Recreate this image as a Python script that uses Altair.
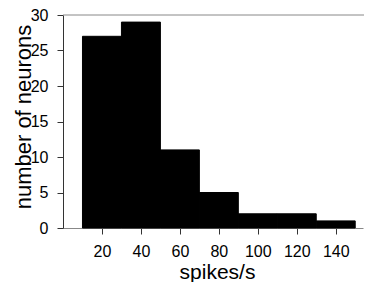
import altair as alt
import pandas as pd

bin_start = [10, 30, 50, 70, 90, 110, 130]
bin_end = [30, 50, 70, 90, 110, 130, 150]
counts = [27, 29, 11, 5, 2, 2, 1]
x_ticks = [20, 40, 60, 80, 100, 120, 140]
y_ticks = [0, 5, 10, 15, 20, 25, 30]

df = pd.DataFrame({"start": bin_start, "end": bin_end, "count": counts})

FONT = "Liberation Sans"
W, H = 300, 213

xscale = alt.Scale(domain=[0, 154], nice=False)
yscale = alt.Scale(domain=[0, 30], nice=False)

bars = alt.Chart(df).mark_bar(color="black", stroke="black", strokeWidth=1).encode(
    x=alt.X("start:Q", scale=xscale,
            axis=alt.Axis(values=x_ticks, title="spikes/s", grid=False,
                          labelOverlap=False,
                          domainColor="#888888", tickColor="#333333",
                          tickSize=6, labelPadding=9, labelFontSize=16,
                          labelFont=FONT, labelColor="black",
                          titleFont=FONT, titleFontSize=21, titleFontWeight="normal",
                          titleColor="black", titleX=154, titleY=50,
                          titleBaseline="alphabetic", titleAlign="center")),
    x2="end:Q",
    y=alt.Y("count:Q", scale=yscale,
            axis=alt.Axis(values=y_ticks, title="number of neurons", grid=False,
                          labelOverlap=False,
                          domainColor="#333333", tickColor="#333333",
                          tickSize=6, labelPadding=9, labelFontSize=16,
                          labelFont=FONT, labelColor="black",
                          titleFont=FONT, titleFontSize=22, titleFontWeight="normal",
                          titleColor="black", titleX=-33, titleY=101.5,
                          titleAngle=270,
                          titleBaseline="alphabetic", titleAlign="center")),
    y2=alt.datum(0),
)

top_rule = alt.Chart(pd.DataFrame({"k": [0]})).mark_rule(color="#888888", strokeWidth=1).encode(
    y=alt.value(0),
    x=alt.value(0),
    x2=alt.value(W + 1),
)

chart = alt.layer(bars, top_rule).properties(
    width=W, height=H,
    autosize=alt.AutoSizeParams(type="none"),
    padding={"left": 55, "top": 7, "right": 1, "bottom": 54},
).configure_view(stroke=None)

chart.save("out.html", embed_options={"renderer": "svg", "actions": False})
